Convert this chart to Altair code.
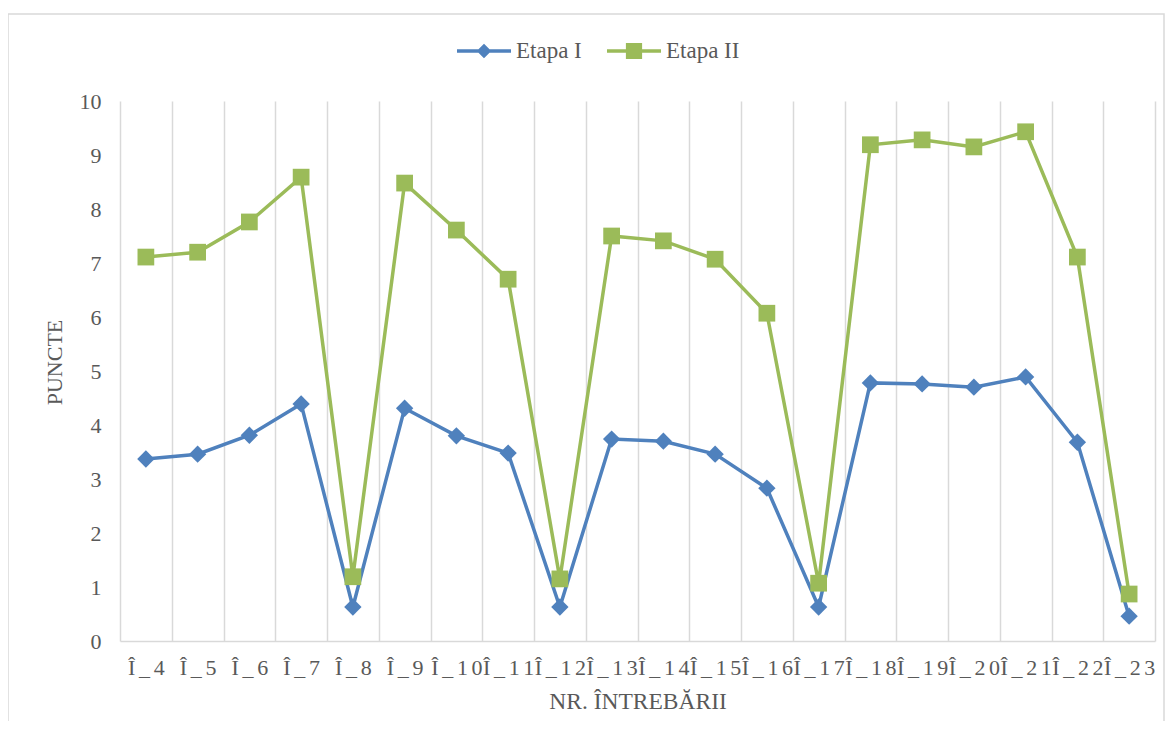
import altair as alt
import pandas as pd

categories = ["Î_4", "Î_5", "Î_6", "Î_7", "Î_8", "Î_9", "Î_10", "Î_11", "Î_12", "Î_13",
              "Î_14", "Î_15", "Î_16", "Î_17", "Î_18", "Î_19", "Î_20", "Î_21", "Î_22", "Î_23"]
etapa_1 = [3.37, 3.46, 3.81, 4.39, 0.63, 4.31, 3.80, 3.48, 0.63, 3.74,
           3.70, 3.46, 2.83, 0.63, 4.78, 4.76, 4.70, 4.89, 3.68, 0.46]
etapa_2 = [7.11, 7.20, 7.76, 8.59, 1.19, 8.48, 7.61, 6.70, 1.15, 7.50,
           7.41, 7.07, 6.07, 1.07, 9.19, 9.28, 9.15, 9.43, 7.11, 0.87]
series_names = ["Etapa I", "Etapa II"]
series_colors = ["#4f81bd", "#9bbb59"]
series_shapes = ["diamond", "square"]
series_sizes = [300, 280]
y_ticks = [0, 1, 2, 3, 4, 5, 6, 7, 8, 9, 10]

df = pd.DataFrame({
    "Intrebare": categories + categories,
    "Puncte": etapa_1 + etapa_2,
    "Etapa": [series_names[0]] * len(categories) + [series_names[1]] * len(categories),
})

FONT = "Liberation Serif"
TEXT = "#595959"
GRID = "#d9d9d9"

x_enc = alt.X(
    "Intrebare:N",
    sort=categories,
    bandPosition=0.5,
    scale=alt.Scale(type="band", paddingInner=0, paddingOuter=0),
    title="NR. ÎNTREBĂRII",
    axis=alt.Axis(
        tickBand="extent", grid=True, gridColor=GRID, gridWidth=1.5,
        domainColor=GRID, domainWidth=1.5, ticks=False, tickSize=0,
        labelAngle=0, labelFont=FONT, labelFontSize=22, labelColor=TEXT,
        labelBaseline="alphabetic", labelPadding=33, labelOverlap=False,
        labelExpr="join(split(datum.label, ''), '\u200a\u200a')",
        titleFont=FONT, titleFontSize=23.5, titleColor=TEXT, titleFontWeight="normal",
        titleBaseline="alphabetic", titleY=67, titleX=517.5,
    ),
)
y_enc = alt.Y(
    "Puncte:Q",
    scale=alt.Scale(domain=[0, 10], nice=False),
    title="PUNCTE",
    axis=alt.Axis(
        values=y_ticks, domain=False, ticks=False, tickSize=0, grid=False,
        labelFont=FONT, labelFontSize=22, labelColor=TEXT, labelPadding=19,
        titleFont=FONT, titleFontSize=22, titleColor=TEXT, titleFontWeight="normal",
        titleAngle=270, titleBaseline="middle", titleAlign="center",
        titleX=-66, titleY=261,
    ),
)

border = alt.Chart(pd.DataFrame({"b": [0]})).mark_rect(
    fill="transparent", stroke=GRID, strokeWidth=1.5
).encode(x=alt.value(-112), x2=alt.value(1044), y=alt.value(-87), y2=alt.value(645))

layers = [border]
for name, color, shape, size in zip(series_names, series_colors, series_shapes, series_sizes):
    base = alt.Chart(df).transform_filter(alt.datum.Etapa == name)
    layers.append(base.mark_line(color=color, strokeWidth=3.5).encode(x=x_enc, y=y_enc))
    layers.append(base.mark_point(shape=shape, size=size, filled=True, opacity=1, color=color,
                                  strokeWidth=0).encode(x=x_enc, y=y_enc))

legend_paths = [
    "M-1,-0.065L1,-0.065L1,0.065L-1,0.065Z M0,-0.27L0.27,0L0,0.27L-0.27,0Z",
    "M-1,-0.065L1,-0.065L1,0.065L-1,0.065Z M-0.3,-0.3L0.3,-0.3L0.3,0.3L-0.3,0.3Z",
]
leg = alt.Legend(
    orient="none", legendX=337, legendY=-77, direction="horizontal", title=None,
    labelFont=FONT, labelFontSize=23, labelColor=TEXT, labelOffset=5,
    symbolSize=2916, symbolStrokeWidth=0, columnPadding=25,
)
legend_layer = alt.Chart(df).transform_filter("false").mark_point(
    filled=True, opacity=1, size=2916
).encode(
    x=x_enc, y=y_enc,
    color=alt.Color("Etapa:N", scale=alt.Scale(domain=series_names, range=series_colors), legend=leg),
    shape=alt.Shape("Etapa:N", scale=alt.Scale(domain=series_names, range=legend_paths), legend=leg),
)
layers.append(legend_layer)

chart = alt.layer(*layers).properties(
    width=1035, height=540,
    padding={"left": 112, "top": 93, "right": 10, "bottom": 80},
    autosize=alt.AutoSizeParams(type="none"),
    background="white",
).configure_view(stroke=None)

chart.save("out.html", embed_options={"renderer": "svg", "actions": False})
